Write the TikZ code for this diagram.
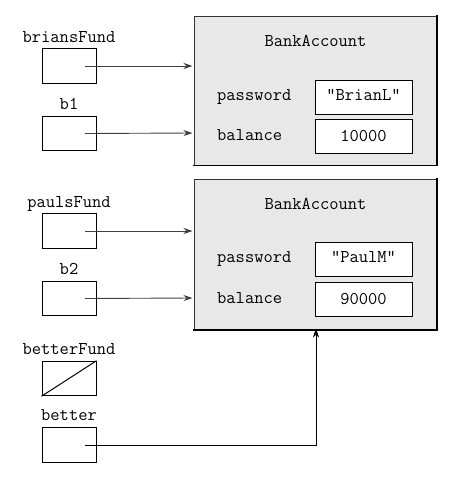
\documentclass[tikz,border=0pt]{standalone}
\usepackage{fontspec}
\usetikzlibrary{arrows.meta}
\definecolor{objfill}{HTML}{E8E8E8}
\begin{document}
\begin{tikzpicture}[x=1pt,y=-1pt,
  every node/.style={font=\fontsize{18}{20}\ttfamily\selectfont, inner sep=0pt},
  varbox/.style={draw, line width=1pt, minimum width=54pt, minimum height=34.5pt},
  objbox/.style={draw=black!80, line width=0.8pt, fill=objfill},
  objedge/.style={line width=1.4pt, line cap=rect},
  valbox/.style={draw, line width=1pt, fill=white, minimum width=97pt, minimum height=34pt},
  lbl/.style={anchor=base},
  ref/.style={line width=0.9pt, draw=black!75, -{Stealth[length=9pt,width=6pt]}},
]
\useasboundingbox (0,0) rectangle (461,480);
% objects
\draw[objbox] (194,16) rectangle (437,165.5);
\draw[objedge] (194,165.5) -- (437,165.5) -- (437,16);
\draw[objbox] (194,179) rectangle (437,330);
\draw[objedge] (194,330) -- (437,330) -- (437,179);
\node[lbl] (t1) at (315.5,46.5) {BankAccount};
\node[lbl] (t2) at (315.5,209) {BankAccount};
\node[lbl,anchor=base west] (p1) at (217,100) {password};
\node[lbl,anchor=base west] (q1) at (217,140.5) {balance};
\node[lbl,anchor=base west] (p2) at (217,262.5) {password};
\node[lbl,anchor=base west] (q2) at (217,303.5) {balance};
\node[valbox] (pv1) at (363.5,97) {};
\node[lbl] at (363.5,100) {"BrianL"};
\node[valbox] (bv1) at (363.5,136) {};
\node[lbl] at (363.5,141.5) {10000};
\node[valbox] (pv2) at (363.5,259.5) {};
\node[lbl] at (363.5,262.5) {"PaulM"};
\node[valbox] (bv2) at (363.5,299.5) {};
\node[lbl] at (363.5,304) {90000};
\coordinate (o1) at (194,66);
\coordinate (o1b) at (194,133);
\coordinate (o2) at (194,231);
\coordinate (o2b) at (194,298);
\coordinate (o2bot) at (316,330);
% variables
\node[varbox] (bf) at (69,66) {};
\node[lbl] (bfl) at (69,42.5) {briansFund};
\node[varbox] (b1) at (69,133.5) {};
\node[lbl] (b1l) at (69,109.5) {b1};
\node[varbox] (pf) at (69,231) {};
\node[lbl] (pfl) at (69,207.5) {paulsFund};
\node[varbox] (b2) at (69,298.5) {};
\node[lbl] (b2l) at (69,274.5) {b2};
\node[varbox] (btf) at (69,378.5) {};
\node[lbl] (btfl) at (69,354.5) {betterFund};
\node[varbox] (bt) at (69,445) {};
\node[lbl] (btl) at (69,420.5) {better};
\draw[line width=1pt] (btf.south west) -- (btf.north east);
% references
\draw[ref] ([xshift=16pt]bf.center) -- ([xshift=-1.5pt]o1);
\draw[ref] ([xshift=16pt]b1.center) -- ([xshift=-1.5pt]o1b);
\draw[ref] ([xshift=16pt]pf.center) -- ([xshift=-1.5pt]o2);
\draw[ref] ([xshift=16pt]b2.center) -- ([xshift=-1.5pt]o2b);
\draw[ref,draw=black] ([xshift=16pt]bt.center) -| ([yshift=1.5pt]o2bot);
\end{tikzpicture}
\end{document}
